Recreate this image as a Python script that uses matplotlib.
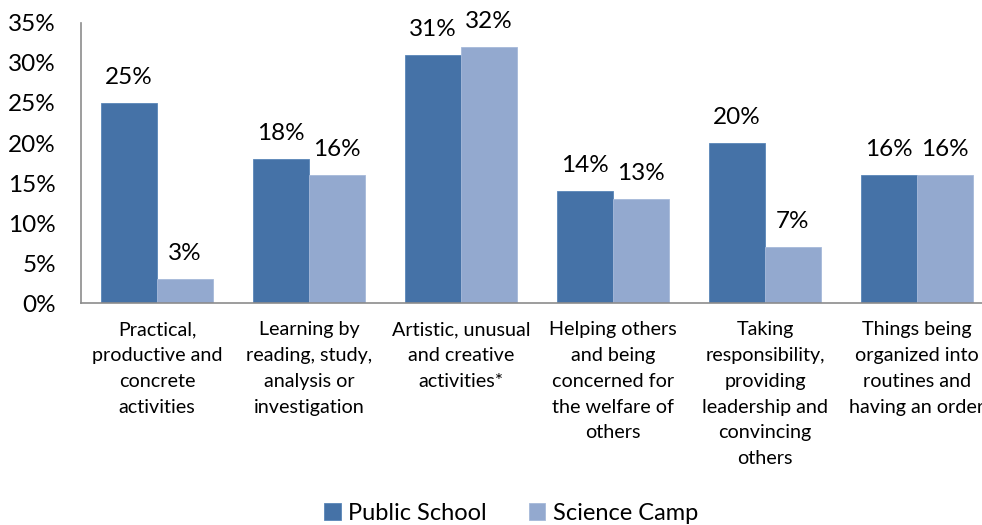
import numpy as np
from matplotlib import pyplot as plt

# Data
kategorier = [
    "Practical,\nproductive and\nconcrete\nactivities",
    "Learning by\nreading, study,\nanalysis or\ninvestigation",
    "Artistic, unusual\nand creative\nactivities*",
    "Helping others\nand being\nconcerned for\nthe welfare of\nothers",
    "Taking\nresponsibility,\nproviding\nleadership and\nconvincing\nothers",
    "Things being\norganized into\nroutines and\nhaving an order",
]
public_school = [25, 18, 31, 14, 20, 16]
science_camp = [3, 16, 32, 13, 7, 16]
y_ticks = [0, 5, 10, 15, 20, 25, 30, 35]

FARGE_PS = "#4572A7"
FARGE_SC = "#93A9CF"


def lag_diagram():
    plt.rcParams["font.family"] = ["Lato", "DejaVu Sans"]

    fig = plt.figure(figsize=(9.82, 5.25), dpi=100)
    # Plot area runs past the right edge, like in the original
    ax = fig.add_axes([81 / 982, 222 / 525, 912 / 982, 280 / 525])

    x = np.arange(len(kategorier))
    bredde = 0.368

    søyler_ps = ax.bar(x - bredde / 2, public_school, bredde, color=FARGE_PS,
                       label="Public School", edgecolor="#5a86b8", linewidth=0.6)
    søyler_sc = ax.bar(x + bredde / 2, science_camp, bredde, color=FARGE_SC,
                       label="Science Camp", edgecolor="#a6b9da", linewidth=0.6)

    # Verdier over søylene
    for søyler in (søyler_ps, søyler_sc):
        ax.bar_label(søyler, labels=[f"{v}%" for v in søyler.datavalues],
                     padding=11, fontsize=17.5)

    # Akser
    ax.set_xlim(-0.5, len(kategorier) - 0.5)
    ax.set_ylim(0, 35)
    ax.set_yticks(y_ticks)
    ax.set_yticklabels([f"{v}%" for v in y_ticks], fontsize=17.5)
    ax.set_xticks(x)
    ax.set_xticklabels(kategorier, fontsize=14.2, linespacing=1.63)
    ax.tick_params(axis="x", length=0, pad=13)
    ax.tick_params(axis="y", length=0, pad=18)

    for side in ("top", "right"):
        ax.spines[side].set_visible(False)
    for side in ("left", "bottom"):
        ax.spines[side].set_color("#8c8c8c")
        ax.spines[side].set_linewidth(1.2)

    fig.legend(loc="center", bbox_to_anchor=(511 / 982, 12 / 525), ncol=2,
               frameon=False, fontsize=17, handlelength=0.7, handleheight=0.7,
               handletextpad=0.3, columnspacing=1.8)

    fig.savefig("out.png", dpi=100)


def main() -> None:
    lag_diagram()


if __name__ == "__main__":
    main()
